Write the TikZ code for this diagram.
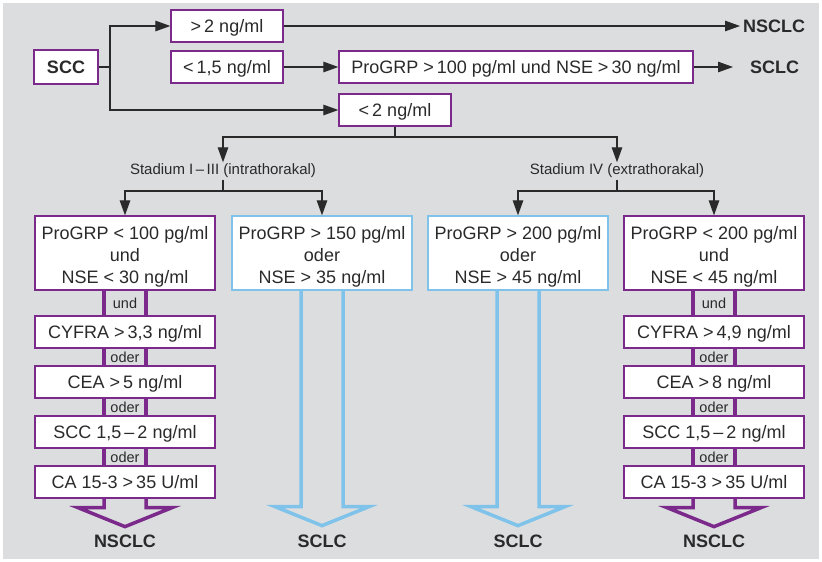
\documentclass[tikz,border=0pt]{standalone}
\usepackage{fontspec}
\setmainfont{Liberation Sans}
\usetikzlibrary{arrows.meta,calc}
\definecolor{bg}{HTML}{DCDDDF}
\definecolor{pur}{HTML}{7B2A8C}
\definecolor{lblue}{HTML}{7FC3EA}
\definecolor{txt}{HTML}{2A2A2A}
\pgfdeclarelayer{bottom}
\pgfdeclarelayer{background}
\pgfsetlayers{bottom,background,main}
\newcommand{\firstline}{\rule{0pt}{21pt}}
\begin{document}
\begin{tikzpicture}[x=1pt,y=-1pt,
  every node/.style={text=txt},
  mainfont/.style={font=\fontsize{18}{21.7}\selectfont},
  pbox/.style={mainfont, draw=pur, line width=1.3pt, fill=white, minimum height=32pt, inner sep=0pt, align=center},
  bbox/.style={pbox, draw=lblue},
  sbox/.style={pbox, text height=14pt, text depth=1pt},
  conn/.style={draw=txt, line width=1.2pt},
  arr/.style={conn, -{Triangle[length=15pt,width=10.5pt]}},
  res/.style={font=\bfseries\fontsize{18}{20}\selectfont, inner sep=0pt},
  st/.style={font=\fontsize{15}{17}\selectfont, inner sep=1.5pt},
  lab/.style={font=\fontsize{14.5}{16}\selectfont, inner sep=0pt},
  purline/.style={draw=pur, line width=3.5pt},
  fatp/.style={draw=pur, line width=3.5pt, miter limit=20},
  fatb/.style={draw=lblue, line width=3.5pt, miter limit=20}]

\begin{pgfonlayer}{bottom}
\fill[bg] (3,3) rectangle (819,559);
\end{pgfonlayer}
\useasboundingbox (0,0) rectangle (822,562);

% top row
\node[sbox, minimum width=64pt, minimum height=34pt, font=\bfseries\fontsize{18}{20}\selectfont] (scc) at (66,67) {SCC};
\node[sbox, minimum width=112pt] (g2) at (227,26) {>\,2 ng/ml};
\node[sbox, minimum width=112pt] (l15) at (227,67) {<\,1,5 ng/ml};
\node[sbox, minimum width=354pt] (pro) at (516,67) {ProGRP >\,100 pg/ml und NSE >\,30 ng/ml};
\node[sbox, minimum width=112pt] (l2) at (395,110) {<\,2 ng/ml};
\node[res, anchor=west] (ns0) at (743,26) {NSCLC};
\node[res, anchor=west] (sc0) at (750,67) {SCLC};

\coordinate (j) at (110,67);
\draw[conn] (scc.east) -- (j);
\draw[arr] (j) |- (g2.west);
\draw[arr] (j) |- (l2.west);
\draw[arr] (l15.east) -- (pro.west);
\draw[arr, shorten >=3pt] (g2.east) -- (ns0.west);
\draw[arr, shorten >=17pt] (pro.east) -- (sc0.west);

% stadium
\node[st] (s1) at (223,171) {Stadium I\,–\,III (intrathorakal)};
\node[st] (s2) at (617,171) {Stadium IV (extrathorakal)};
\coordinate (t) at (395,137);
\draw[conn] (l2.south) -- (t);
\draw[arr] (t) -| (s1.north);
\draw[arr] (t) -| (s2.north);

% level 3
\node[pbox, minimum width=180pt, minimum height=74pt] (A) at (125,253) {\firstline ProGRP < 100 pg/ml\\und\\NSE < 30 ng/ml};
\node[bbox, minimum width=180pt, minimum height=74pt] (B) at (322,253) {\firstline ProGRP > 150 pg/ml\\oder\\NSE > 35 ng/ml};
\node[bbox, minimum width=180pt, minimum height=74pt] (C) at (518,253) {\firstline ProGRP > 200 pg/ml\\oder\\NSE > 45 ng/ml};
\node[pbox, minimum width=180pt, minimum height=74pt] (D) at (714,253) {\firstline ProGRP < 200 pg/ml\\und\\NSE < 45 ng/ml};

\coordinate (u1) at (223,191);
\coordinate (u2) at (617,191);
\draw[conn] (s1.south) -- (u1);
\draw[conn] (s2.south) -- (u2);
\draw[arr] (u1) -| (A.north);
\draw[arr] (u1) -| (B.north);
\draw[arr] (u2) -| (C.north);
\draw[arr] (u2) -| (D.north);

% chains
\node[sbox, minimum width=180pt] (a1) at (125,332) {CYFRA >\,3,3 ng/ml};
\node[sbox, minimum width=180pt] (a2) at (125,382) {CEA >\,5 ng/ml};
\node[sbox, minimum width=180pt] (a3) at (125,432) {SCC 1,5\,–\,2 ng/ml};
\node[sbox, minimum width=180pt] (a4) at (125,482) {CA 15-3 >\,35 U/ml};
\node[sbox, minimum width=180pt] (d1) at (714,332) {CYFRA >\,4,9 ng/ml};
\node[sbox, minimum width=180pt] (d2) at (714,382) {CEA >\,8 ng/ml};
\node[sbox, minimum width=180pt] (d3) at (714,432) {SCC 1,5\,–\,2 ng/ml};
\node[sbox, minimum width=180pt] (d4) at (714,482) {CA 15-3 >\,35 U/ml};

\begin{pgfonlayer}{background}
\foreach \p/\q in {A/a1,a1/a2,a2/a3,a3/a4,D/d1,d1/d2,d2/d3,d3/d4}{
  \draw[purline] ($(\p.south)+(-21,0)$) -- ($(\q.north)+(-21,0)$);
  \draw[purline] ($(\p.south)+(21,0)$) -- ($(\q.north)+(21,0)$);
}
\draw[fatp] ($(a4.south)+(-21,0)$) -- ++(0,9) -- ++(-26,0) -- ++(47,19) -- ++(47,-19) -- ++(-26,0) -- ++(0,-9);
\draw[fatp] ($(d4.south)+(-21,0)$) -- ++(0,9) -- ++(-26,0) -- ++(47,19) -- ++(47,-19) -- ++(-26,0) -- ++(0,-9);
\draw[fatb] ($(B.south)+(-21,0)$) -- ++(0,216) -- ++(-26,0) -- ++(47,19) -- ++(47,-19) -- ++(-26,0) -- ++(0,-216);
\draw[fatb] ($(C.south)+(-21,0)$) -- ++(0,216) -- ++(-26,0) -- ++(47,19) -- ++(47,-19) -- ++(-26,0) -- ++(0,-216);
\end{pgfonlayer}

\node[lab] (la1) at ($(A.south)!0.5!(a1.north)$) {und};
\node[lab] (la2) at ($(a1.south)!0.5!(a2.north)$) {oder};
\node[lab] (la3) at ($(a2.south)!0.5!(a3.north)$) {oder};
\node[lab] (la4) at ($(a3.south)!0.5!(a4.north)$) {oder};
\node[lab] (ld1) at ($(D.south)!0.5!(d1.north)$) {und};
\node[lab] (ld2) at ($(d1.south)!0.5!(d2.north)$) {oder};
\node[lab] (ld3) at ($(d2.south)!0.5!(d3.north)$) {oder};
\node[lab] (ld4) at ($(d3.south)!0.5!(d4.north)$) {oder};

% results
\node[res] (r1) at (125,541) {NSCLC};
\node[res] (r2) at (322,541) {SCLC};
\node[res] (r3) at (518,541) {SCLC};
\node[res] (r4) at (714,541) {NSCLC};
\end{tikzpicture}
\end{document}
